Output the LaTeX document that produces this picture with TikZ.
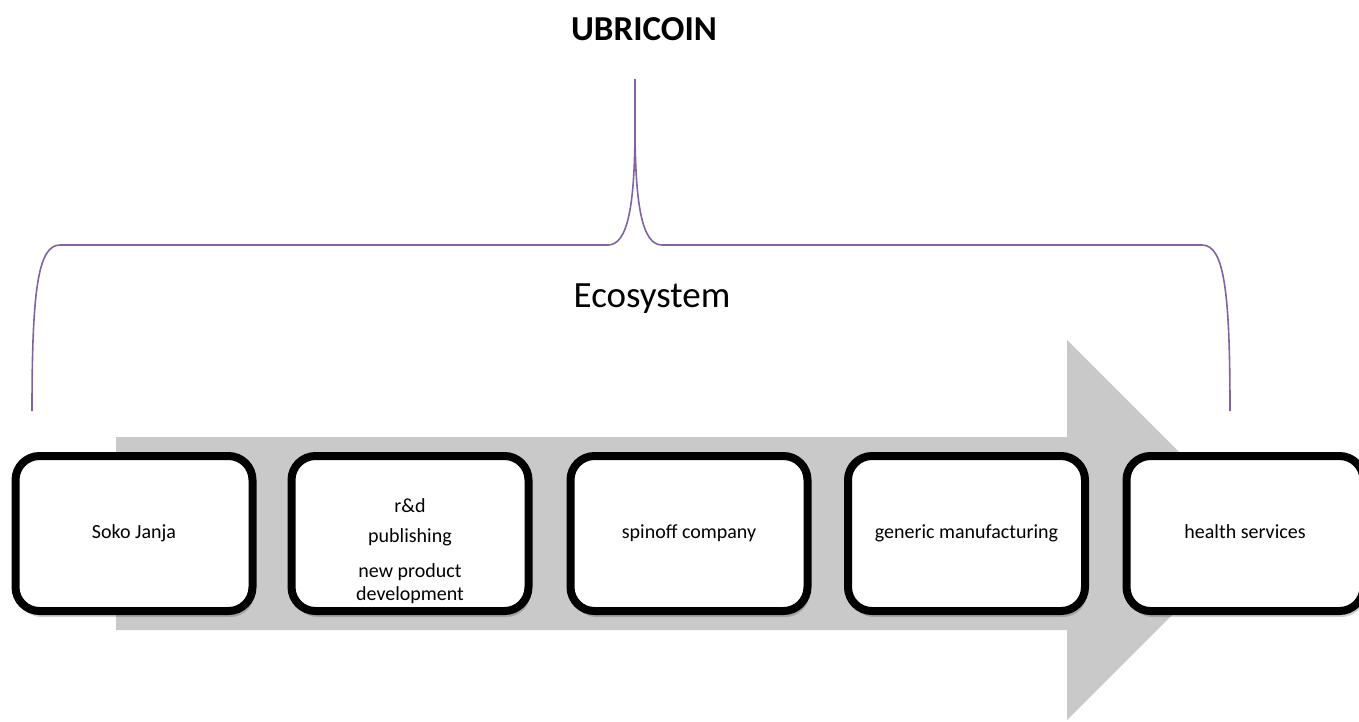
\documentclass[tikz,border=0pt]{standalone}
\usepackage{fontspec}
\setmainfont{Carlito}
\usetikzlibrary{shadows}
\definecolor{bracepurple}{RGB}{128,100,162}
\definecolor{flowgray}{RGB}{201,201,201}
\tikzset{
  stagebox/.style={draw=black, line width=8pt, fill=white, rounded corners=24pt,
    minimum width=237pt, minimum height=155pt, inner sep=0pt, align=center,
    font=\fontsize{20}{24}\selectfont, text height=14pt, text depth=4pt,
    drop shadow={shadow xshift=2pt, shadow yshift=-6pt, opacity=0.18, fill=black}},
  bracelineA/.style={draw=bracepurple, line width=1.6pt},
}
\begin{document}
\begin{tikzpicture}[x=1pt, y=-1pt]
  \useasboundingbox (0,0) rectangle (1359,721);

  % titles
  \node[anchor=base, inner sep=0pt, font=\fontsize{35}{40}\selectfont\bfseries] (title) at (644,40) {UBRICOIN};
  \node[anchor=base, inner sep=0pt, font=\fontsize{37}{44}\selectfont] (eco) at (652,307) {Ecosystem};

  % curly brace from the tip down to both ends
  \coordinate (tip) at (635,79);
  \coordinate (lend) at (32,411);
  \coordinate (rend) at (1230,411);
  \draw[bracelineA] (lend) .. controls (32,290) and (38,245) .. (60,245)
    -- (608,245) .. controls (628,245) and (635,205) .. (635,125) -- (tip);
  \draw[bracelineA] (rend) .. controls (1230,290) and (1224,245) .. (1202,245)
    -- (662,245) .. controls (642,245) and (635,205) .. (635,125);

  % wide process arrow behind the stages
  \fill[flowgray] (116,437) -- (1067,437) -- (1067,340) -- (1257,530)
    -- (1067,720) -- (1067,630) -- (116,630) -- cycle;

  % stages
  \node[stagebox] (s1) at (134,533.5) {Soko Janja};
  \node[stagebox] (s2) at (410,533.5) {};
  \node[stagebox] (s3) at (689,533.5) {spinoff company};
  \node[stagebox] (s4) at (966.5,533.5) {generic manufacturing};
  \node[stagebox] (s5) at (1245,533.5) {health services};

  \node[anchor=north, inner sep=0pt, align=center, font=\fontsize{20}{23}\selectfont]
    (s2text) at (410,498) {r\&d\\[7pt]publishing\\[12pt]new product\\development};
\end{tikzpicture}
\end{document}
